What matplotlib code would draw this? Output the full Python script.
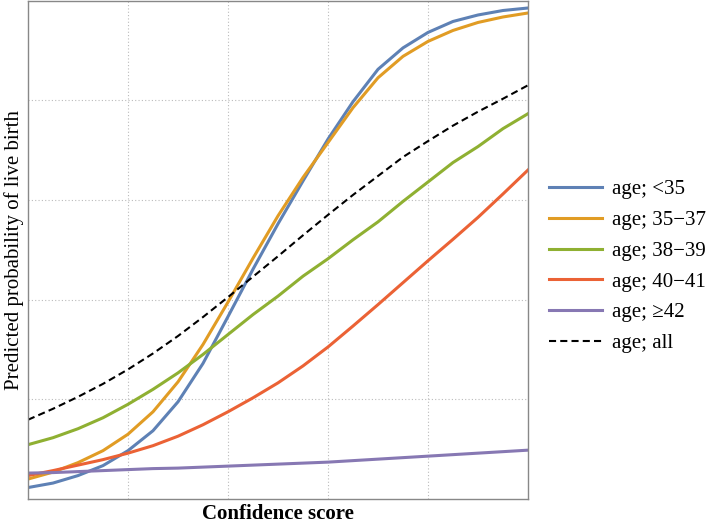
import matplotlib.pyplot as plt

# confidence score (normalised to 0-1) and predicted probabilities
score = [0.00, 0.05, 0.10, 0.15, 0.20, 0.25, 0.30, 0.35, 0.40, 0.45, 0.50,
         0.55, 0.60, 0.65, 0.70, 0.75, 0.80, 0.85, 0.90, 0.95, 1.00]

p_lt35 = [0.023, 0.032, 0.047, 0.067, 0.097, 0.137, 0.195, 0.272, 0.366, 0.461, 0.552,
          0.638, 0.722, 0.797, 0.862, 0.905, 0.936, 0.958, 0.971, 0.980, 0.985]
p_35_37 = [0.040, 0.054, 0.073, 0.097, 0.130, 0.175, 0.235, 0.310, 0.395, 0.483, 0.568,
           0.645, 0.715, 0.785, 0.845, 0.888, 0.918, 0.940, 0.956, 0.967, 0.975]
p_38_39 = [0.109, 0.123, 0.141, 0.163, 0.190, 0.220, 0.253, 0.290, 0.330, 0.370, 0.407,
           0.447, 0.482, 0.520, 0.556, 0.597, 0.636, 0.675, 0.707, 0.743, 0.773]
p_40_41 = [0.047, 0.057, 0.068, 0.079, 0.092, 0.107, 0.126, 0.149, 0.175, 0.203, 0.233,
           0.267, 0.305, 0.347, 0.390, 0.434, 0.478, 0.521, 0.565, 0.612, 0.660]
p_ge42 = [0.052, 0.053, 0.055, 0.057, 0.059, 0.061, 0.062, 0.064, 0.066, 0.068, 0.070,
          0.072, 0.074, 0.077, 0.080, 0.083, 0.086, 0.089, 0.092, 0.095, 0.098]
p_all = [0.159, 0.181, 0.205, 0.231, 0.260, 0.292, 0.327, 0.365, 0.405, 0.446, 0.487,
         0.529, 0.570, 0.610, 0.648, 0.686, 0.718, 0.749, 0.777, 0.803, 0.830]

labels = ["age; <35", "age; 35\u221237", "age; 38\u221239", "age; 40\u221241",
          "age; \u226542", "age; all"]
colors = ["#5e81b5", "#e19c24", "#8fb032", "#eb6235", "#8778b3"]

plt.rcParams['font.family'] = ['Liberation Serif', 'DejaVu Serif']

fig = plt.figure(figsize=(7.09, 5.25), dpi=100)
ax = fig.add_axes([0.0395, 0.0495, 0.7052, 0.9495])

series = [p_lt35, p_35_37, p_38_39, p_40_41, p_ge42]
for vals, lab, col in zip(series, labels[:5], colors):
    ax.plot(score, vals, color=col, lw=2.2, label=lab)
ax.plot(score, p_all, color="black", lw=1.5, ls=(0, (3.4, 2.0)), label=labels[5])

ax.set_xlim(0, 1)
ax.set_ylim(0, 1)
ax.set_xticks([0.2, 0.4, 0.6, 0.8])
ax.set_yticks([0.2, 0.4, 0.6, 0.8])
ax.tick_params(length=0, labelbottom=False, labelleft=False)
ax.grid(True, color="#bbbbbb", ls=(0, (1, 2)), lw=0.8)
for s in ax.spines.values():
    s.set_color("#888888")
    s.set_linewidth(1.0)

fig.text(0.392, 0.002, "Confidence score", fontsize=15, fontweight='bold',
         ha='center', va='bottom')
fig.text(14 / 709, 1 - 250 / 525, "Predicted probability of live birth", fontsize=15,
         rotation=90, ha='center', va='center')

fig.legend(loc='upper left', bbox_to_anchor=(0.774, 0.658), frameon=False,
           fontsize=15, handlelength=2.55, handletextpad=0.48, labelspacing=0.54,
           borderpad=0, borderaxespad=0)

fig.savefig("out.png", dpi=100)
